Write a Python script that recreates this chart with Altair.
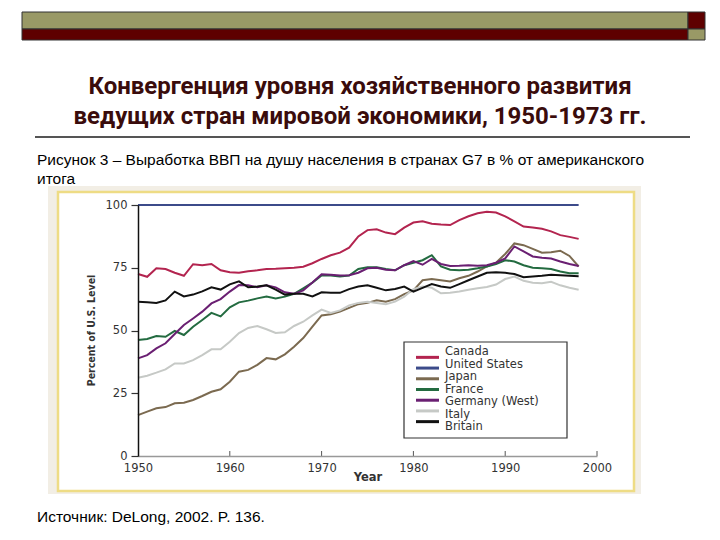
import altair as alt
import pandas as pd

years = list(range(1950, 1999))
countries = ["Canada", "United States", "Japan", "France", "Germany (West)", "Italy", "Britain"]
colors = ["#b3244f", "#3c4b8a", "#7b6a50", "#236b40", "#6a1f72", "#c6c9c6", "#111111"]

canada = [72.5, 71.4, 74.8, 74.5, 73.0, 71.8, 76.4, 76.0, 76.5, 74.0,
          73.2, 73.0, 73.6, 74.0, 74.5, 74.6, 74.8, 75.0, 75.4, 76.8,
          78.5, 80.0, 81.0, 83.0, 87.5, 90.0, 90.3, 89.0, 88.4, 91.0,
          93.0, 93.5, 92.5, 92.2, 92.0, 94.0, 95.5, 96.7, 97.3, 97.0,
          95.5, 93.5, 91.4, 91.0, 90.5, 89.5, 88.0, 87.3, 86.5]
united_states = [100.0] * 49
japan = [16.3, 17.7, 19.0, 19.5, 21.0, 21.2, 22.3, 23.9, 25.6, 26.6,
         29.6, 33.6, 34.3, 36.3, 39.0, 38.5, 40.5, 43.5, 47.0, 51.5,
         56.0, 56.5, 57.5, 59.0, 60.5, 61.0, 62.0, 61.5, 62.5, 64.5,
         66.0, 70.0, 70.5, 70.0, 69.5, 70.8, 71.8, 73.5, 75.5, 77.0,
         80.5, 84.7, 84.0, 82.5, 81.0, 81.2, 81.8, 79.7, 75.5]
france = [46.2, 46.6, 47.8, 47.5, 49.8, 48.2, 51.5, 54.2, 57.0, 55.6,
          59.2, 61.2, 61.9, 62.8, 63.5, 62.8, 63.5, 64.6, 66.8, 69.1,
          71.9, 71.9, 71.5, 71.9, 74.5, 75.2, 75.2, 74.5, 74.0, 76.0,
          77.0, 78.0, 80.0, 75.5, 74.2, 74.0, 74.2, 74.8, 75.5, 76.5,
          78.0, 77.5, 76.0, 75.0, 74.8, 74.5, 73.5, 72.8, 72.8]
germany = [38.9, 40.2, 42.9, 44.9, 48.6, 52.2, 54.8, 57.5, 60.8, 62.5,
           65.5, 68.1, 68.0, 67.2, 68.0, 67.2, 65.2, 64.6, 66.0, 69.1,
           72.4, 72.2, 71.9, 72.0, 73.0, 74.8, 75.0, 74.2, 74.0, 76.0,
           77.7, 76.2, 78.5, 76.5, 75.7, 75.8, 76.0, 75.8, 76.0, 77.0,
           78.7, 83.5, 81.5, 79.5, 79.0, 78.7, 77.5, 76.5, 75.7]
italy = [31.2, 32.0, 33.2, 34.5, 36.9, 36.9, 38.2, 40.2, 42.5, 42.5,
         45.5, 49.0, 51.0, 51.8, 50.5, 49.0, 49.3, 51.8, 53.5, 56.0,
         58.3, 57.0, 58.0, 60.0, 61.0, 61.5, 61.0, 60.5, 61.5, 63.5,
         66.5, 67.5, 67.0, 64.8, 65.0, 65.5, 66.2, 66.8, 67.3, 68.3,
         70.5, 71.5, 69.8, 69.0, 68.8, 69.4, 68.0, 67.0, 66.2]
britain = [61.5, 61.3, 61.0, 62.0, 65.5, 63.6, 64.3, 65.6, 67.2, 66.3,
           68.4, 69.6, 67.2, 67.5, 68.0, 66.3, 64.3, 64.6, 64.6, 63.6,
           65.2, 65.0, 65.0, 66.5, 67.5, 68.0, 67.0, 66.0, 66.5, 67.5,
           65.5, 67.0, 68.5, 67.5, 67.0, 68.5, 70.0, 71.5, 73.0, 73.2,
           73.0, 72.5, 71.2, 71.5, 71.8, 72.2, 72.0, 71.8, 71.6]

x_ticks = [1950, 1960, 1970, 1980, 1990, 2000]
y_ticks = [0, 25, 50, 75, 100]

title_1 = "Конвергенция уровня хозяйственного развития"
title_2 = "ведущих стран мировой экономики, 1950-1973 гг."
caption_1 = "Рисунок 3 – Выработка ВВП на душу населения в странах G7 в % от американского"
caption_2 = "итога"
source = "Источник: DeLong, 2002. P. 136."

series = [canada, united_states, japan, france, germany, italy, britain]
rows = []
for c, vals in zip(countries, series):
    for yr, v in zip(years, vals):
        rows.append({"country": c, "year": yr, "value": v})
df = pd.DataFrame(rows)
one = pd.DataFrame({"k": [0]})

W, H = 459, 251
OLIVE = "#999966"
MAROON = "#5e0000"


def rect(x1, x2, y1, y2, **kw):
    return alt.Chart(one).mark_rect(**kw).encode(
        x=alt.value(x1), x2=alt.value(x2), y=alt.value(y1), y2=alt.value(y2))


def text(s, x, y, **kw):
    return alt.Chart(one).mark_text(**kw).encode(
        x=alt.value(x), y=alt.value(y), text=alt.value(s))


bg = rect(-90, 503, -19, 289, color="#f2eee5")
frame = rect(-80, 496, -13, 286, fill="white", stroke="#eedc85", strokeWidth=2.5)

bar1 = rect(-116, 550, -193, -176, fill=OLIVE, stroke="#333333", strokeWidth=1)
sq1 = rect(550, 567, -193, -176, fill=MAROON, stroke="#333333", strokeWidth=1)
bar2 = rect(-116, 550, -176, -165, fill=MAROON, stroke="#333333", strokeWidth=1)
sq2 = rect(550, 567, -176, -165, fill=OLIVE, stroke="#333333", strokeWidth=1)

tfont = dict(font="Roboto", fontSize=24, fontWeight="bold", color="#3a0c0c",
             align="center", baseline="middle")
t1 = text(title_1, 222, -118, **tfont)
t2 = text(title_2, 222, -88, **tfont)

sep = alt.Chart(one).mark_rule(color="#555555", strokeWidth=2).encode(
    x=alt.value(-103), x2=alt.value(552), y=alt.value(-68))

cfont = dict(font="Liberation Sans", fontSize=15.5, color="#000000",
             align="left", baseline="middle")
c1 = text(caption_1, -101, -45, **cfont)
c2 = text(caption_2, -101, -26, **cfont)
src = text(source, -101, 312, **cfont)

color_scale = alt.Scale(domain=countries, range=colors)

lines = alt.Chart(df).mark_line(strokeWidth=2).encode(
    x=alt.X("year:Q", scale=alt.Scale(domain=[1950, 2000], nice=False),
            axis=alt.Axis(values=x_ticks, format="d", ticks=False, grid=False,
                          labelFont="DejaVu Sans", labelFontSize=11.5, labelColor="#333333",
                          labelPadding=6, labelFlush=False, domainColor="#999999",
                          domainWidth=1.5, title="Year", titleFont="DejaVu Sans",
                          titleFontSize=11.5, titleFontWeight="bold", titleColor="#333333",
                          titleY=21, titleBaseline="middle", zindex=1)),
    y=alt.Y("value:Q", scale=alt.Scale(domain=[0, 100], nice=False),
            axis=alt.Axis(values=y_ticks, grid=False, labelFont="DejaVu Sans",
                          labelFontSize=11.5, labelColor="#333333", labelPadding=4,
                          tickSize=7, tickColor="#333333", tickWidth=1.2,
                          domainColor="#111111", domainWidth=1.5,
                          title="Percent of U.S. Level",
                          titleFont="DejaVu Sans Condensed, Liberation Sans Narrow, Roboto",
                          titleFontSize=10.5, titleFontWeight="bold", titleColor="#333333",
                          titleX=-47, titleY=125, titleBaseline="middle", zindex=1)),
    color=alt.Color("country:N", scale=color_scale, legend=None),
)

xt = alt.Chart(pd.DataFrame({"year": x_ticks[1:]})).mark_rule(
    color="#555555", strokeWidth=1).encode(
    x="year:Q", y=alt.value(H - 5), y2=alt.value(H))

leg_box = rect(266, 429, 137, 233, fill="white", stroke="#333333", strokeWidth=1.2)
leg_df = pd.DataFrame({"country": countries})
leg_y = alt.Y("country:N", scale=alt.Scale(domain=countries, range=[147, 222], padding=0),
              axis=None)
leg_lines = alt.Chart(leg_df).mark_rule(strokeWidth=3).encode(
    x=alt.value(278), x2=alt.value(301), y=leg_y,
    color=alt.Color("country:N", scale=color_scale, legend=None))
leg_text = alt.Chart(leg_df).mark_text(
    align="left", baseline="middle", font="DejaVu Sans", fontSize=11.5,
    color="#333333").encode(x=alt.value(307), y=leg_y, text="country:N")

chart = alt.layer(
    bg, frame, bar1, sq1, bar2, sq2, t1, t2, sep, c1, c2, src,
    lines, xt, leg_box, leg_lines, leg_text
).resolve_scale(y="independent").properties(
    width=W, height=H,
    autosize=alt.AutoSizeParams(type="none"),
    padding={"left": 130, "top": 197, "right": 115, "bottom": 76},
    background="white",
).configure_view(stroke=None)

chart.save("out.html", embed_options={"renderer": "svg", "actions": False})
